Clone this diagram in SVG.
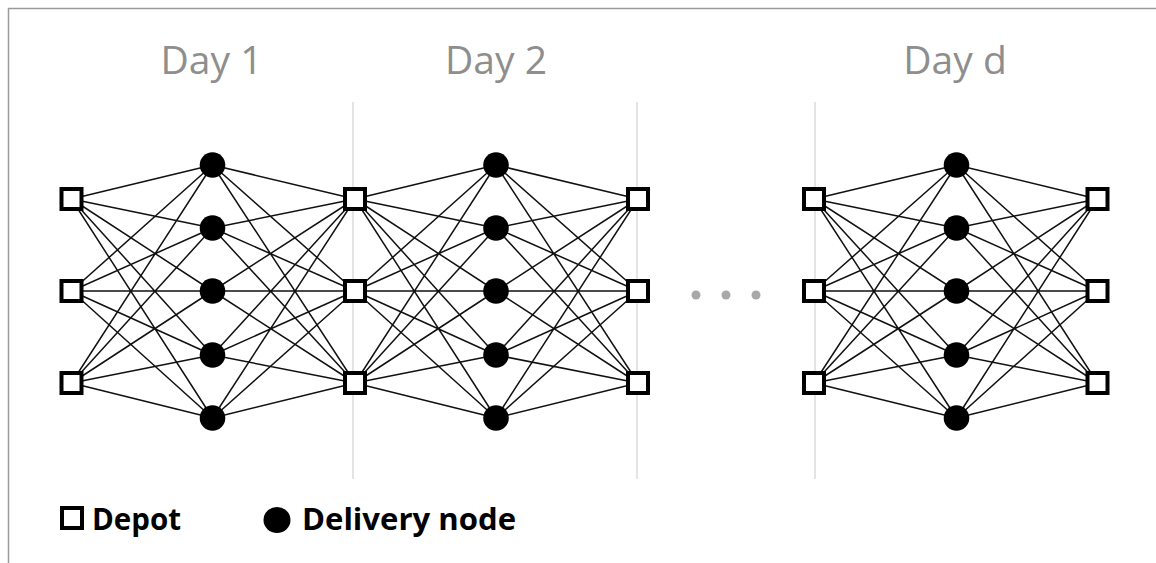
<svg xmlns="http://www.w3.org/2000/svg" width="1156" height="563" viewBox="0 0 1156 563">
  <style>
    .frame { stroke: #9a9a9a; stroke-width: 1.5; fill: none; }
    .sep { stroke: #d2d2d2; stroke-width: 1.2; fill: none; }
    .edge { stroke: #111; stroke-width: 1.5; fill: none; }
    .depot { fill: #fff; stroke: #000; stroke-width: 4; }
    .delivery { fill: #000; }
    .title { font-family: "Open Sans", "Liberation Sans", sans-serif; font-size: 39px; fill: #8e8e8e; text-anchor: middle; }
    .legend { font-family: "Open Sans", "Liberation Sans", sans-serif; font-size: 29.5px; font-weight: bold; fill: #000; }
    .more { fill: #a8a8a8; }
  </style>
  <defs>
    <rect id="sq" x="-10" y="-10" width="20" height="20"/>
  </defs>
  <rect width="1156" height="563" fill="#fff"/>

  <!-- outer frame (top and left edges) -->
  <path class="frame" d="M8 8.5H1156M8.5 8V563"/>

  <!-- day separators -->
  <path class="sep" d="M353 102V479M637 102V479M815 102V479"/>

  <!-- day titles -->
  <text class="title" x="211.5" y="73.5">Day 1</text>
  <text class="title" x="496" y="73.5">Day 2</text>
  <text class="title" x="955" y="73.5">Day d</text>

  <!-- connectors: every depot to every delivery node of the day, and back -->
  <g id="connectors" class="edge">
    <path id="day1-out" d="M71.5 199L212.5 165M71.5 199L212.5 228M71.5 199L212.5 291M71.5 199L212.5 355M71.5 199L212.5 418M71.5 291L212.5 165M71.5 291L212.5 228M71.5 291L212.5 291M71.5 291L212.5 355M71.5 291L212.5 418M71.5 383L212.5 165M71.5 383L212.5 228M71.5 383L212.5 291M71.5 383L212.5 355M71.5 383L212.5 418"/>
    <path id="day1-in" d="M355 199L212.5 165M355 199L212.5 228M355 199L212.5 291M355 199L212.5 355M355 199L212.5 418M355 291L212.5 165M355 291L212.5 228M355 291L212.5 291M355 291L212.5 355M355 291L212.5 418M355 383L212.5 165M355 383L212.5 228M355 383L212.5 291M355 383L212.5 355M355 383L212.5 418"/>
    <path id="day2-out" d="M355 199L496 165M355 199L496 228M355 199L496 291M355 199L496 355M355 199L496 418M355 291L496 165M355 291L496 228M355 291L496 291M355 291L496 355M355 291L496 418M355 383L496 165M355 383L496 228M355 383L496 291M355 383L496 355M355 383L496 418"/>
    <path id="day2-in" d="M638 199L496 165M638 199L496 228M638 199L496 291M638 199L496 355M638 199L496 418M638 291L496 165M638 291L496 228M638 291L496 291M638 291L496 355M638 291L496 418M638 383L496 165M638 383L496 228M638 383L496 291M638 383L496 355M638 383L496 418"/>
    <path id="dayd-out" d="M814 199L956.5 165M814 199L956.5 228M814 199L956.5 291M814 199L956.5 355M814 199L956.5 418M814 291L956.5 165M814 291L956.5 228M814 291L956.5 291M814 291L956.5 355M814 291L956.5 418M814 383L956.5 165M814 383L956.5 228M814 383L956.5 291M814 383L956.5 355M814 383L956.5 418"/>
    <path id="dayd-in" d="M1097.5 199L956.5 165M1097.5 199L956.5 228M1097.5 199L956.5 291M1097.5 199L956.5 355M1097.5 199L956.5 418M1097.5 291L956.5 165M1097.5 291L956.5 228M1097.5 291L956.5 291M1097.5 291L956.5 355M1097.5 291L956.5 418M1097.5 383L956.5 165M1097.5 383L956.5 228M1097.5 383L956.5 291M1097.5 383L956.5 355M1097.5 383L956.5 418"/>
  </g>

  <!-- depots -->
  <g id="depot-0-1" class="depot"><use href="#sq" x="71.5" y="199"/></g>
  <g id="depot-0-2" class="depot"><use href="#sq" x="71.5" y="291"/></g>
  <g id="depot-0-3" class="depot"><use href="#sq" x="71.5" y="383"/></g>
  <g id="depot-1-1" class="depot"><use href="#sq" x="355" y="199"/></g>
  <g id="depot-1-2" class="depot"><use href="#sq" x="355" y="291"/></g>
  <g id="depot-1-3" class="depot"><use href="#sq" x="355" y="383"/></g>
  <g id="depot-2-1" class="depot"><use href="#sq" x="638" y="199"/></g>
  <g id="depot-2-2" class="depot"><use href="#sq" x="638" y="291"/></g>
  <g id="depot-2-3" class="depot"><use href="#sq" x="638" y="383"/></g>
  <g id="depot-d0-1" class="depot"><use href="#sq" x="814" y="199"/></g>
  <g id="depot-d0-2" class="depot"><use href="#sq" x="814" y="291"/></g>
  <g id="depot-d0-3" class="depot"><use href="#sq" x="814" y="383"/></g>
  <g id="depot-d-1" class="depot"><use href="#sq" x="1097.5" y="199"/></g>
  <g id="depot-d-2" class="depot"><use href="#sq" x="1097.5" y="291"/></g>
  <g id="depot-d-3" class="depot"><use href="#sq" x="1097.5" y="383"/></g>

  <!-- delivery nodes -->
  <g id="day1-nodes" class="delivery">
    <g id="d1-n1"><circle cx="212.5" cy="165" r="12.8"/></g>
    <g id="d1-n2"><circle cx="212.5" cy="228" r="12.8"/></g>
    <g id="d1-n3"><circle cx="212.5" cy="291" r="12.8"/></g>
    <g id="d1-n4"><circle cx="212.5" cy="355" r="12.8"/></g>
    <g id="d1-n5"><circle cx="212.5" cy="418" r="12.8"/></g>
  </g>
  <g id="day2-nodes" class="delivery">
    <g id="d2-n1"><circle cx="496" cy="165" r="12.8"/></g>
    <g id="d2-n2"><circle cx="496" cy="228" r="12.8"/></g>
    <g id="d2-n3"><circle cx="496" cy="291" r="12.8"/></g>
    <g id="d2-n4"><circle cx="496" cy="355" r="12.8"/></g>
    <g id="d2-n5"><circle cx="496" cy="418" r="12.8"/></g>
  </g>
  <g id="dayd-nodes" class="delivery">
    <g id="dd-n1"><circle cx="956.5" cy="165" r="12.8"/></g>
    <g id="dd-n2"><circle cx="956.5" cy="228" r="12.8"/></g>
    <g id="dd-n3"><circle cx="956.5" cy="291" r="12.8"/></g>
    <g id="dd-n4"><circle cx="956.5" cy="355" r="12.8"/></g>
    <g id="dd-n5"><circle cx="956.5" cy="418" r="12.8"/></g>
  </g>

  <!-- ellipsis between day 2 and day d -->
  <g id="ellipsis" class="more">
    <circle cx="696" cy="295" r="4.5"/>
    <circle cx="726" cy="295" r="4.5"/>
    <circle cx="756" cy="295" r="4.5"/>
  </g>

  <!-- legend -->
  <g id="legend">
    <rect class="depot" x="62" y="508" width="20" height="20"/>
    <text class="legend" x="92" y="529.5">Depot</text>
    <ellipse class="delivery" cx="277" cy="520" rx="13.5" ry="13"/>
    <text class="legend" x="302" y="529.5" textLength="214" lengthAdjust="spacingAndGlyphs">Delivery node</text>
  </g>
</svg>
